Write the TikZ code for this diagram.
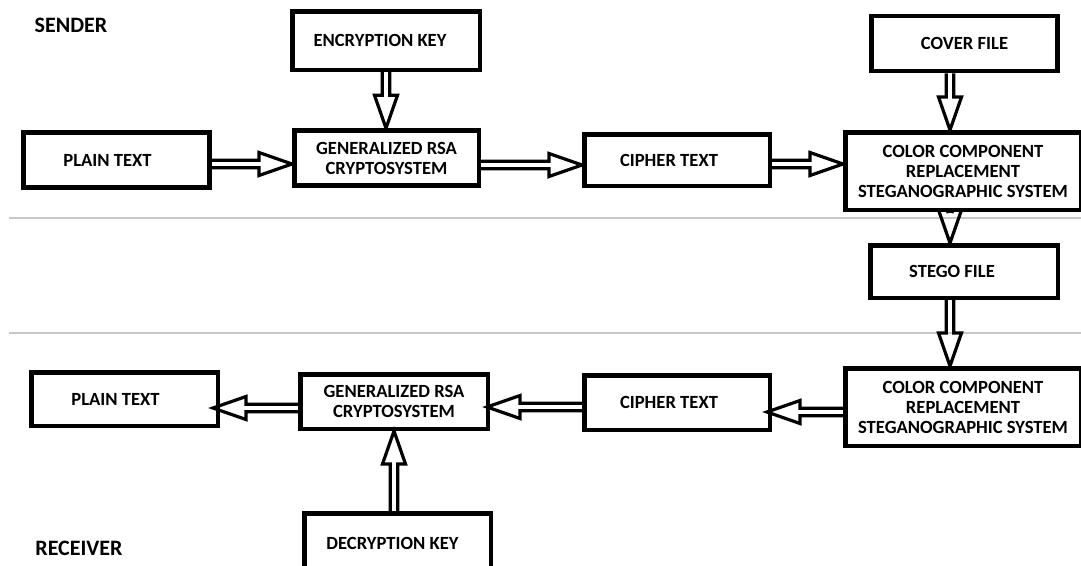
\documentclass[tikz,border=0pt]{standalone}
\usepackage{fontspec}
\setmainfont{Carlito}
\usetikzlibrary{calc}

\tikzset{
  box/.style={draw, line width=4.5pt, inner sep=0pt, align=center,
    minimum width=186pt, minimum height=55pt,
    font=\fontsize{18.6}{20}\selectfont\bfseries},
  % pushes a single-line label towards the left side of its box
  lean/.style={execute at end node={\kern#1}},
  side/.style={font=\fontsize{22}{24}\selectfont\bfseries},
  sep/.style={draw=black!22, line width=2pt},
  conn/.style={line width=3.2pt, line join=miter},
  % hollow double-shafted arrow from start to target
  hollow/.style={to path={
    let \p1=(\tikztostart), \p2=(\tikztotarget),
        \p3=($(\p2)!33pt!(\p1)$) in
    ($(\p1)!3.8pt!90:(\p2)$) -- ($(\p3)!3.8pt!-90:(\p1)$)
    -- ($(\p3)!11.5pt!-90:(\p1)$) -- (\p2)
    -- ($(\p3)!11.5pt!90:(\p1)$) -- ($(\p3)!3.8pt!90:(\p1)$)
    -- ($(\p1)!3.8pt!-90:(\p2)$)
  }}
}

\begin{document}
\begin{tikzpicture}[x=1pt, y=-1pt]
\useasboundingbox (0,0) rectangle (1081,565);

% section separators
\draw[sep] (9,218) -- (1081,218);
\draw[sep] (9,333) -- (1081,333);

% side labels
\node[side] (sender) at (71,25) {SENDER};
\node[side] (receiver) at (79,548) {RECEIVER};

% sender side
\node[box, lean=12pt, minimum height=58.5pt, minimum width=187.5pt] (encK) at (386,40.5) {ENCRYPTION KEY};
\node[box, lean=18pt] (plainS) at (116.5,160) {PLAIN TEXT};
\node[box, minimum width=184.5pt] (rsaS) at (386.5,158) {GENERALIZED RSA\\CRYPTOSYSTEM};
\node[box, lean=16pt, minimum width=185.5pt, minimum height=51.5pt] (ciphS) at (677,160) {CIPHER TEXT};
\node[box] (cover) at (964.5,43.5) {COVER FILE};
\node[box, minimum width=235.5pt, minimum height=77.5pt] (colS) at (963,171)
  {COLOR COMPONENT\\REPLACEMENT\\STEGANOGRAPHIC SYSTEM};

% transfer
\node[box, lean=24pt, minimum width=187.5pt, minimum height=52.5pt] (stego) at (964,271.5) {STEGO FILE};

% receiver side
\node[box, minimum width=235.5pt, minimum height=77.5pt] (colR) at (963,407)
  {COLOR COMPONENT\\REPLACEMENT\\STEGANOGRAPHIC SYSTEM};
\node[box, lean=16pt, minimum width=185.5pt, minimum height=54.5pt] (ciphR) at (677,402.5) {CIPHER TEXT};
\node[box, minimum width=187.5pt, minimum height=54.5pt] (rsaR) at (394,401.5) {GENERALIZED RSA\\CRYPTOSYSTEM};
\node[box, lean=18pt, minimum width=186.5pt, minimum height=53.5pt] (plainR) at (124.5,399) {PLAIN TEXT};
\node[box, lean=10pt, minimum width=186.5pt, minimum height=59.5pt] (decK) at (397.5,543) {DECRYPTION KEY};

% sender connectors
\draw[conn] (encK.south) to[hollow] (encK.south |- rsaS.north);
\draw[conn] (plainS.east |- 0,164) to[hollow] (rsaS.west |- 0,164);
\draw[conn] (rsaS.east |- 0,165) to[hollow] (ciphS.west |- 0,165);
\draw[conn] (ciphS.east |- 0,164) to[hollow] (colS.west |- 0,164);
\draw[conn] (cover.south -| 950,0) to[hollow] (colS.north -| 950,0);

% transfer connectors
\draw[conn] (colS.south -| 950,0) to[hollow] (stego.north -| 950,0);
\draw[conn] (stego.south -| 950,0) to[hollow] (colR.north -| 950,0);

% receiver connectors (tips run slightly into the boxes)
\draw[conn] (colR.west |- 0,412) to[hollow] ($(ciphR.east |- 0,412)+(-5,0)$);
\draw[conn] (ciphR.west |- 0,407) to[hollow] ($(rsaR.east |- 0,407)+(-3,0)$);
\draw[conn] (rsaR.west |- 0,408) to[hollow] ($(plainR.east |- 0,408)+(-7,0)$);
\draw[conn] (decK.north -| 394,0) to[hollow] (rsaR.south -| 394,0);
\end{tikzpicture}
\end{document}
